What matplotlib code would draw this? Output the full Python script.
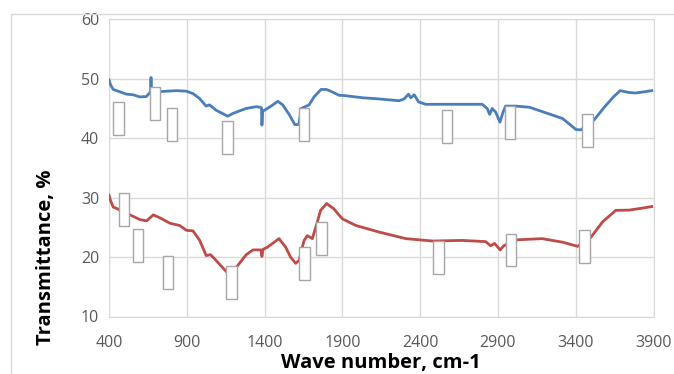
import matplotlib
matplotlib.use("Agg")
import matplotlib.pyplot as plt
from matplotlib.patches import Rectangle

# upper (blue) spectrum
blue_x = [400, 410, 427, 470, 513, 555, 597, 640, 660, 668, 670, 672, 706, 770, 834, 898,
          940, 981, 1024, 1046, 1089, 1163, 1196, 1240, 1282, 1346, 1372, 1380, 1383, 1388,
          1400, 1442, 1485, 1517, 1560, 1594, 1620, 1636, 1686, 1718, 1763, 1795, 1817,
          1881, 1902, 2030, 2137, 2265, 2297, 2325, 2340, 2362, 2390, 2436, 2550, 2671,
          2799, 2831, 2847, 2863, 2885, 2913, 2932, 2949, 3013, 3103, 3210, 3316, 3402,
          3434, 3519, 3590, 3643, 3686, 3740, 3782, 3840, 3889]
blue_y = [49.8, 49.0, 48.2, 47.8, 47.4, 47.3, 46.95, 47.0, 47.6, 47.8, 50.2, 47.8, 47.8,
          47.9, 48.0, 47.9, 47.5, 46.7, 45.4, 45.6, 44.7, 43.7, 44.15, 44.6, 45.0, 45.3,
          45.2, 45.1, 42.2, 44.6, 44.7, 45.4, 46.2, 45.6, 43.9, 42.3, 42.3, 45.0, 45.6,
          46.95, 48.2, 48.2, 48.0, 47.2, 47.2, 46.8, 46.6, 46.3, 46.6, 47.4, 46.8, 47.3,
          46.1, 45.7, 45.7, 45.7, 45.7, 45.0, 44.0, 45.0, 44.4, 42.7, 44.3, 45.4, 45.4,
          45.2, 44.25, 43.3, 41.45, 41.4, 43.1, 45.4, 46.95, 48.0, 47.7, 47.6, 47.8, 48.0]

# lower (red) spectrum
red_x = [400, 410, 427, 448, 490, 535, 599, 642, 685, 727, 791, 855, 898, 940, 983, 1025,
         1052, 1079, 1131, 1160, 1222, 1282, 1325, 1377, 1383, 1390, 1418, 1493, 1536,
         1568, 1600, 1621, 1654, 1675, 1707, 1739, 1760, 1799, 1846, 1881, 1902, 1988,
         2137, 2308, 2479, 2671, 2821, 2853, 2878, 2915, 2937, 3024, 3184, 3316, 3412,
         3497, 3572, 3657, 3743, 3820, 3889]
red_y = [30.4, 29.5, 28.4, 28.2, 27.6, 27.1, 26.3, 26.1, 27.1, 26.6, 25.7, 25.3, 24.5,
         24.4, 22.8, 20.25, 20.4, 19.7, 18.2, 17.4, 18.4, 20.4, 21.2, 21.2, 20.1, 21.3,
         21.65, 23.1, 21.65, 19.95, 18.95, 19.4, 22.8, 23.6, 23.1, 25.9, 27.85, 29.0,
         28.1, 27.0, 26.4, 25.3, 24.2, 23.1, 22.7, 22.8, 22.6, 21.9, 22.3, 21.2, 21.9,
         22.9, 23.1, 22.5, 21.8, 23.3, 25.9, 27.85, 27.9, 28.2, 28.5]

# white label boxes: left edge (wave number), bottom (transmittance)
box_x = [426, 662, 770, 1129, 1620, 2539, 2943, 3440,
         462, 552, 744, 1154, 1624, 1731, 2485, 2949, 3424]
box_y = [40.6, 43.1, 39.6, 37.4, 39.5, 39.2, 39.9, 38.5,
         25.3, 19.2, 14.6, 12.95, 16.15, 20.4, 17.2, 18.45, 19.0]
box_w = 68
box_h = 5.5

x_ticks = [400, 900, 1400, 1900, 2400, 2900, 3400, 3900]
y_ticks = [10, 20, 30, 40, 50, 60]

plt.rcParams['font.family'] = ['Open Sans', 'DejaVu Sans']

fig = plt.figure(figsize=(6.74, 3.74), dpi=100)
fig.patches.append(Rectangle((10.5 / 674, -0.01), 1.0, 1 - 14 / 374 + 0.01,
                             transform=fig.transFigure, fill=False,
                             edgecolor='#D9D9D9', lw=1))
ax = fig.add_axes([109 / 674, 1 - 316.5 / 374, 544.5 / 674, 297.2 / 374])

ax.plot(blue_x, blue_y, color='#4A7EBB', lw=2, zorder=3)
ax.plot(red_x, red_y, color='#BE4B48', lw=2, zorder=3)

for bx, by in zip(box_x, box_y):
    ax.add_patch(Rectangle((bx, by), box_w, box_h, facecolor='white',
                           edgecolor='#A6A6A6', lw=1, zorder=4))

ax.set_xlim(400, 3900)
ax.set_ylim(10, 60)
ax.set_xticks(x_ticks)
ax.set_yticks(y_ticks)
ax.grid(True, color='#D9D9D9', lw=1)
ax.set_axisbelow(True)
for s in ax.spines.values():
    s.set_color('#D9D9D9')
ax.tick_params(length=0, labelsize=11.5, labelcolor='#595959')
ax.tick_params(axis='x', pad=13)
ax.tick_params(axis='y', pad=7)

ax.set_xlabel('Wave number, cm-1', fontsize=14.5, fontweight='bold')
ax.set_ylabel('Transmittance, %', fontsize=14.5, fontweight='bold')
ax.xaxis.set_label_coords(0.5, -0.124)
ax.yaxis.set_label_coords(-0.097, 0.2)

fig.savefig('out.png')
